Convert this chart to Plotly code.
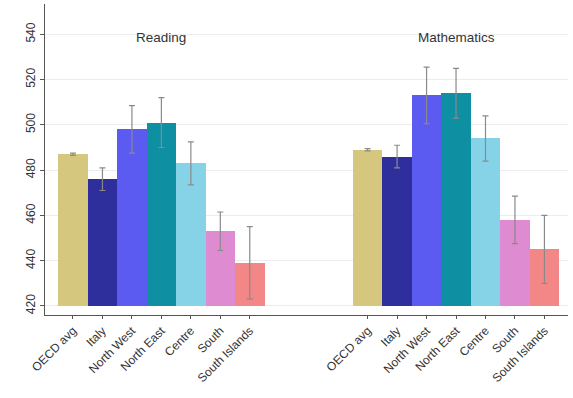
import plotly.graph_objects as go

categories = ["OECD avg", "Italy", "North West", "North East", "Centre", "South", "South Islands"]
reading = [487, 476, 498, 501, 483, 453, 439]
reading_err = [0.5, 5, 10.5, 11, 9.5, 8.5, 16]
maths = [489, 486, 513, 514, 494, 458, 445]
maths_err = [0.5, 5, 12.5, 11, 10, 10.5, 15]
colors = ["#d5c87e", "#2e2e9c", "#5b5bf2", "#0f8fa2", "#86d2e7", "#de8bd1", "#f38787"]
subjects = ["Reading", "Mathematics"]
base_val = 420
y_ticks = [420, 440, 460, 480, 500, 520, 540]

fig = go.Figure()
offsets = [0, 10]
for si, (vals, errs) in enumerate([(reading, reading_err), (maths, maths_err)]):
    xs = [offsets[si] + i for i in range(len(categories))]
    fig.add_trace(go.Bar(
        x=xs, y=[v - base_val for v in vals], base=base_val,
        marker=dict(color=colors, line=dict(width=0)),
        width=1.0, showlegend=False,
    ))
    fig.add_trace(go.Scatter(
        x=xs, y=vals, mode="markers", marker=dict(opacity=0, size=1),
        error_y=dict(type="data", array=errs, color="#8a8a8a", thickness=1.2, width=3),
        showlegend=False,
    ))
    fig.add_annotation(x=offsets[si] + 3, y=538.8, text=subjects[si], showarrow=False,
                       font=dict(size=13.5, color="#333333"), xanchor="center", yanchor="middle")

tickvals = [o + i for o in offsets for i in range(len(categories))]
ticktext = categories * 2

fig.update_layout(
    width=573, height=398,
    margin=dict(l=45, r=5, t=4, b=83),
    paper_bgcolor="white", plot_bgcolor="white",
    font=dict(family="Liberation Sans, Arial, sans-serif", size=12, color="#333333"),
    bargap=0,
)
fig.update_xaxes(range=[-0.95, 16.8], tickvals=tickvals, ticktext=ticktext, tickangle=-45,
                 tickfont=dict(size=12),
                 showline=True, linecolor="#555555", linewidth=1, ticks="outside",
                 ticklen=3, tickcolor="#555555", showgrid=False, zeroline=False)
fig.update_yaxes(range=[416.0, 553.4], tickvals=y_ticks, tickangle=-90,
                 tickfont=dict(size=12),
                 showline=True, linecolor="#555555", linewidth=1, ticks="outside",
                 ticklen=4, tickcolor="#555555", showgrid=True, gridcolor="#ececec",
                 zeroline=False)

fig.write_html("out.html", config={"displayModeBar": False},
               post_script="document.body.style.margin='0px';document.body.style.overflow='hidden';")
